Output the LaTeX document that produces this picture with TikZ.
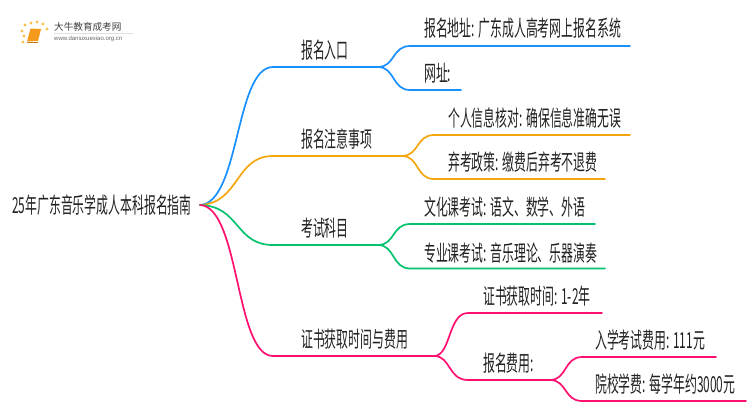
\documentclass[tikz,border=0pt]{standalone}
\usepackage{fontspec}
\setmainfont{Liberation Sans}
\newfontfamily\cjk[FakeStretch=0.54]{Noto Sans CJK SC}
\newfontfamily\cjklogo{Noto Sans CJK SC}
\definecolor{cblue}{HTML}{1890FF}
\definecolor{corange}{HTML}{F5A60F}
\definecolor{cgreen}{HTML}{04C26E}
\definecolor{cpink}{HTML}{FF0F6F}
\definecolor{ctext}{HTML}{222222}
\definecolor{cbook}{HTML}{F59A1B}
\definecolor{cdot}{HTML}{FBC04A}
\tikzset{
  lbl/.style={anchor=west,inner sep=0pt,text=ctext,font=\cjk\fontsize{22}{22}\selectfont},
  wire/.style={line width=1.7pt,line cap=round},
}
\begin{document}
\begin{tikzpicture}[x=1pt,y=-1pt]
\useasboundingbox (0,0) rectangle (750,410);
\fill[white] (0,0) rectangle (750,410);
% logo
\fill[cbook] (30.5,28.5) -- (41,29) -- (38,41) -- (27,41.5) -- cycle;
\draw[black!20!cbook,line width=.6pt] (27,42) -- (38,42);
\foreach \a/\b in {25/25,31/23,37/22,43/24,47/29,22/31,24/36,23/42}{\fill[cdot] (\a,\b) circle (1.7pt);}
\draw[black!12,line width=.5pt] (54,33) -- (133,33);
\node[anchor=west,inner sep=0pt,text=black!75,font=\cjklogo\fontsize{9.6}{9.6}\selectfont] (logoa) at (54,27) {大牛教育成考网};
\node[anchor=west,inner sep=0pt,text=black!60,font=\fontsize{6}{6}\selectfont] (logob) at (54,38.7) {www.daniuxuexiao.org.cn};
% root
\node[lbl] (root) at (12,205) {25年广东音乐学成人本科报名指南};
\coordinate (o) at (200,205);
% level 1
\node[lbl] (n1) at (301,50) {报名入口};
\node[lbl] (n2) at (301,139) {报名注意事项};
\node[lbl] (n3) at (301,228) {考试科目};
\node[lbl] (n4) at (301,339) {证书获取时间与费用};
% leaves
\node[lbl] (a1) at (424,28) {报名地址: 广东成人高考网上报名系统};
\node[lbl] (a2) at (424,73) {网址:};
\node[lbl] (b1) at (448,118) {个人信息核对: 确保信息准确无误};
\node[lbl] (b2) at (448,162) {弃考政策: 缴费后弃考不退费};
\node[lbl] (c1) at (424,207) {文化课考试: 语文、数学、外语};
\node[lbl] (c2) at (424,253) {专业课考试: 音乐理论、乐器演奏};
\node[lbl] (d1) at (483,296) {证书获取时间: 1-2年};
\node[lbl] (d2) at (483,363) {报名费用:};
\node[lbl] (e1) at (595,340) {入学考试费用: 111元};
\node[lbl] (e2) at (595,384) {院校学费: 每学年约3000元};
% junctions
\coordinate (n1s) at (273,67); \coordinate (n1e) at (378,67);
\coordinate (a1s) at (410,46); \coordinate (a1e) at (630,46);
\coordinate (a2s) at (410,90); \coordinate (a2e) at (461,90);
\coordinate (n2s) at (273,156); \coordinate (n2e) at (402,156);
\coordinate (b1s) at (434,135); \coordinate (b1e) at (630,135);
\coordinate (b2s) at (434,179); \coordinate (b2e) at (605,179);
\coordinate (n3s) at (273,245); \coordinate (n3e) at (378,245);
\coordinate (c1s) at (410,224); \coordinate (c1e) at (595,224);
\coordinate (c2s) at (410,268.5); \coordinate (c2e) at (605,268.5);
\coordinate (n4s) at (273,356); \coordinate (n4e) at (434,356);
\coordinate (d1s) at (468,313); \coordinate (d1e) at (602,313);
\coordinate (d2s) at (468,380); \coordinate (d2e) at (550,380);
\coordinate (e1s) at (582,357); \coordinate (e1e) at (716,357);
\coordinate (e2s) at (582,401); \coordinate (e2e) at (746,401);
% connectors
\draw[wire,cblue] (o) .. controls (240,203) and (235,67) .. (n1s) -- (n1e);
\draw[wire,cblue] (n1e) .. controls (395,67) and (392,46) .. (a1s) -- (a1e);
\draw[wire,cblue] (n1e) .. controls (395,67) and (392,90) .. (a2s) -- (a2e);
\draw[wire,corange] (o) .. controls (240,203) and (235,156) .. (n2s) -- (n2e);
\draw[wire,corange] (n2e) .. controls (419,156) and (416,135) .. (b1s) -- (b1e);
\draw[wire,corange] (n2e) .. controls (419,156) and (416,179) .. (b2s) -- (b2e);
\draw[wire,cgreen] (o) .. controls (240,206) and (235,245) .. (n3s) -- (n3e);
\draw[wire,cgreen] (n3e) .. controls (395,245) and (392,224) .. (c1s) -- (c1e);
\draw[wire,cgreen] (n3e) .. controls (395,245) and (392,268.5) .. (c2s) -- (c2e);
\draw[wire,cpink] (o) .. controls (240,207) and (235,356) .. (n4s) -- (n4e);
\draw[wire,cpink] (n4e) .. controls (451,356) and (448,313) .. (d1s) -- (d1e);
\draw[wire,cpink] (n4e) .. controls (451,356) and (448,380) .. (d2s) -- (d2e);
\draw[wire,cpink] (d2e) .. controls (567,380) and (564,357) .. (e1s) -- (e1e);
\draw[wire,cpink] (d2e) .. controls (567,380) and (564,401) .. (e2s) -- (e2e);
\end{tikzpicture}
\end{document}
